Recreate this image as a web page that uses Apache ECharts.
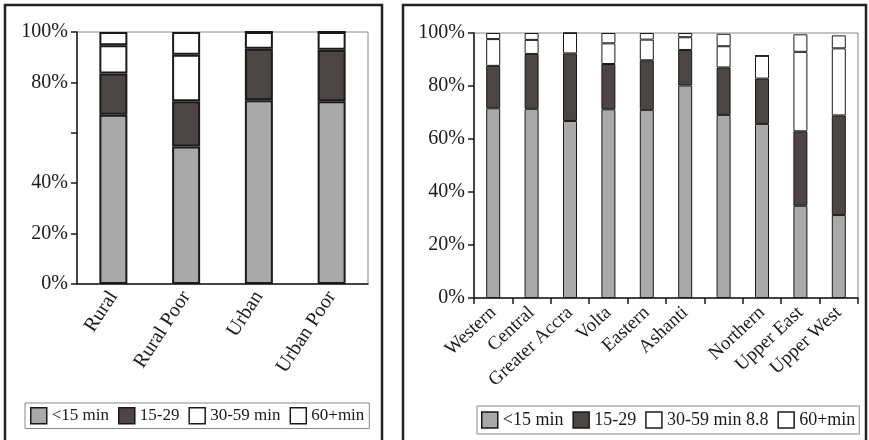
<!DOCTYPE html>
<html>
<head>
<meta charset="utf-8">
<script src="https://cdn.jsdelivr.net/npm/echarts@6/dist/echarts.min.js"></script>
<style>
  html, body { margin: 0; padding: 0; background: #fff; }
  #chart { width: 869px; height: 440px; }
</style>
</head>
<body>
<div id="chart"></div>
<script>
// Travel time to the nearest health facility, share of households (%)
const areaTypes = ['Rural', 'Rural Poor', 'Urban', 'Urban Poor'];
const areaUnder15 = [67.2, 54.6, 72.9, 72.5];
const area15to29 = [16.3, 17.9, 20.5, 20.5];
const area30to59 = [11.2, 18.5, 6.6, 7.0];
const area60plus = [5.3, 9.0, 0, 0];

const regions = ['Western', 'Central', 'Greater Accra', 'Volta', 'Eastern', 'Ashanti', '', 'Northern', 'Upper East', 'Upper West'];
const regionUnder15 = [71.6, 71.4, 66.8, 71.2, 71.0, 80.2, 69.1, 65.7, 34.8, 31.3];
const region15to29 = [16.0, 20.7, 25.5, 17.1, 18.7, 13.4, 17.9, 17.1, 28.1, 37.6];
const region30to59 = [10.1, 5.3, 7.7, 7.8, 7.8, 4.8, 8.0, 8.6, 30.0, 25.3];
const region60plus = [2.3, 2.6, 0, 3.9, 2.5, 1.6, 4.7, 0, 6.6, 4.9];

const yTicks = [0, 20, 40, 60, 80, 100];

const FONT = "'Liberation Serif', 'Times New Roman', serif";
const GREY = '#a9a9a9';
const DARK = '#4b4643';
const WHITE = '#ffffff';
const INK = '#1a1a1a';

const chart = echarts.init(document.getElementById('chart'), null, { renderer: 'canvas' });

function yAxis(gridIndex, hide60) {
  return {
    type: 'value', gridIndex, min: 0, max: 100, interval: 20,
    axisLine: { show: true, lineStyle: { color: INK, width: 1.5 } },
    axisTick: { show: true, length: 6, lineStyle: { color: INK, width: 1.5 } },
    splitLine: { show: false },
    axisLabel: {
      margin: 9, color: INK, fontFamily: FONT, fontSize: 20,
      formatter: v => (hide60 && v === 60) ? '' : (yTicks.includes(v) ? v + '%' : '')
    }
  };
}

function bar(name, data, color, axis, width, border) {
  return {
    name, type: 'bar', stack: 's' + axis, data,
    xAxisIndex: axis, yAxisIndex: axis,
    barWidth: width,
    itemStyle: { color, borderColor: INK, borderWidth: border },
    emphasis: { disabled: true },
    animation: false
  };
}

const legendBase = {
  orient: 'horizontal',
  icon: 'rect',
  itemWidth: 16, itemHeight: 16,
  borderColor: '#888', borderWidth: 1,
  itemStyle: { borderColor: INK, borderWidth: 1.5 },
  selectedMode: false,
  backgroundColor: '#fff'
};

chart.setOption({
  backgroundColor: '#fff',
  animation: false,
  grid: [
    { left: 77, top: 32, width: 291, height: 252, show: true, borderColor: '#888', borderWidth: 1, backgroundColor: 'transparent' },
    { left: 474, top: 33, width: 384, height: 265, show: true, borderColor: '#888', borderWidth: 1, backgroundColor: 'transparent' }
  ],
  xAxis: [
    {
      type: 'category', gridIndex: 0, data: areaTypes,
      axisLine: { lineStyle: { color: INK, width: 1.5 } },
      axisTick: { show: false },
      axisLabel: { interval: 0, rotate: 57, margin: 9, color: INK, fontFamily: FONT, fontSize: 20 }
    },
    {
      type: 'category', gridIndex: 1, data: regions,
      axisLine: { lineStyle: { color: INK, width: 1.5 } },
      axisTick: { show: true, length: 6, interval: 0, lineStyle: { color: INK, width: 1.5 } },
      axisLabel: { interval: 0, rotate: 43, margin: 12, color: INK, fontFamily: FONT, fontSize: 19 }
    }
  ],
  yAxis: [yAxis(0, true), yAxis(1, false)],
  legend: [
    Object.assign({}, legendBase, {
      left: 25, top: 403, padding: [4, 5], itemGap: 9,
      textStyle: { fontFamily: FONT, fontSize: 17, color: INK },
      data: ['<15 min', '15-29', '30-59 min', '60+min']
    }),
    Object.assign({}, legendBase, {
      left: 477, top: 406, padding: [5, 4], itemGap: 9,
      textStyle: { fontFamily: FONT, fontSize: 18, color: INK },
      data: ['<15 min', '15-29', '30-59 min 8.8', '60+min']
    })
  ],
  graphic: [
    { type: 'rect', shape: { x: 5, y: 5, width: 377, height: 445 }, style: { fill: 'none', stroke: '#222', lineWidth: 2.5 }, silent: true, z: 100 },
    { type: 'rect', shape: { x: 403, y: 5, width: 463, height: 445 }, style: { fill: 'none', stroke: '#222', lineWidth: 2.5 }, silent: true, z: 100 }
  ],
  series: [
    bar('<15 min', areaUnder15, GREY, 0, 28, 2),
    bar('15-29', area15to29, DARK, 0, 28, 2),
    bar('30-59 min', area30to59, WHITE, 0, 28, 2),
    bar('60+min', area60plus, WHITE, 0, 28, 2),
    bar('<15 min', regionUnder15, GREY, 1, 14, 1),
    bar('15-29', region15to29, DARK, 1, 14, 1),
    bar('30-59 min 8.8', region30to59, WHITE, 1, 14, 1),
    bar('60+min', region60plus, WHITE, 1, 14, 1)
  ]
});
</script>
</body>
</html>
